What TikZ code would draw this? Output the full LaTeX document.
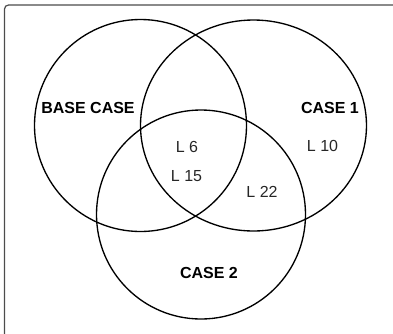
\documentclass[tikz,border=0pt]{standalone}
\usepackage{fontspec}
\setmainfont{Liberation Sans}
\usetikzlibrary{positioning}

\begin{document}
\begin{tikzpicture}[x=0.75pt,y=-0.75pt]
        \tikzset{set/.style={draw,line width=1pt}}
        \tikzset{casename/.style={font=\fontsize{12}{14}\selectfont\bfseries}}
        \tikzset{region/.style={font=\fontsize{12}{14}\selectfont,text=black!85}}
        \useasboundingbox (0,0) rectangle (393,333);
        \begin{scope}
        \clip (0,0) rectangle (393,333);
        \draw[black!70,line width=0.9pt,rounded corners=3pt] (600,5) -- (4.5,5) -- (4.5,600);
        \end{scope}

        % the three sets
        \draw[set] (140.5,125.5) circle [radius=106];
        \draw[set] (253.5,125.5) ellipse [x radius=113, y radius=105.5];
        \draw[set] (201,214.5) circle [radius=104.5];

        \node[casename] (base) at (88,108) {BASE CASE};
        \node[casename] (one) at (330,108) {CASE 1};
        \node[casename] (two) at (209,273) {CASE 2};

        \node[region] (l6) at (187,147) {L 6};
        \node[region] (l15) at (186.5,176.5) {L 15};
        \node[region] (l22) at (262,192) {L 22};
        \node[region] (l10) at (322.5,146) {L 10};
    \end{tikzpicture}
\end{document}
